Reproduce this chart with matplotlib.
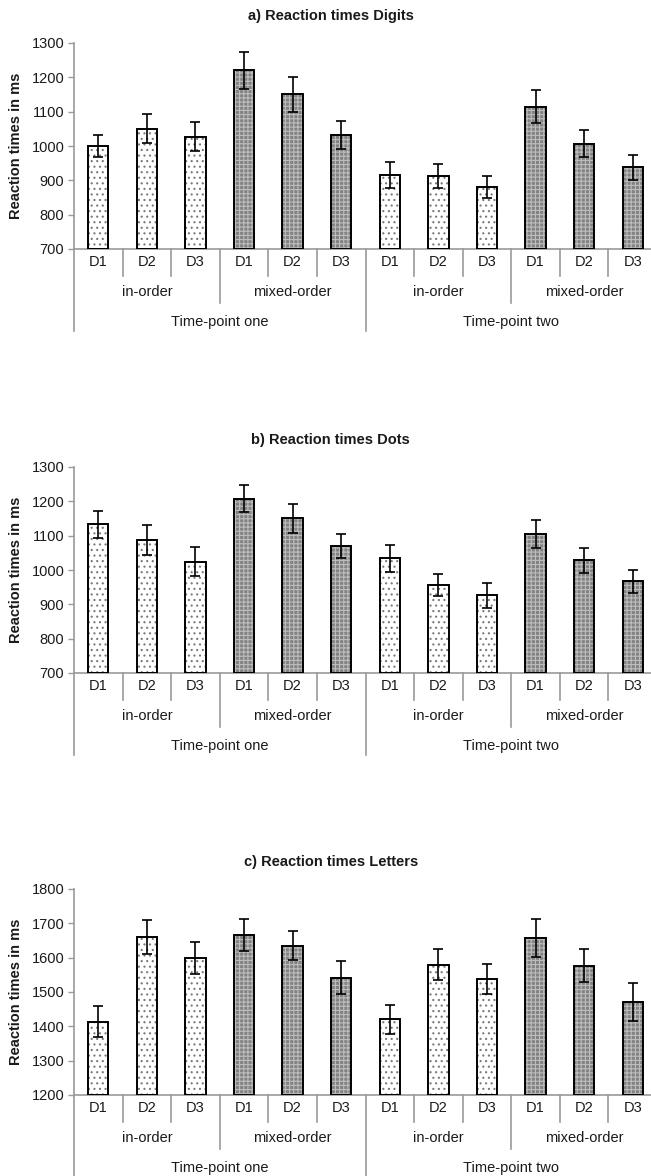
import matplotlib
matplotlib.use('Agg')
import matplotlib.pyplot as plt
from matplotlib.lines import Line2D

plt.rcParams['font.family'] = ['Liberation Sans', 'DejaVu Sans']
plt.rcParams['hatch.linewidth'] = 0.8

# Werte
stufen = ['D1', 'D2', 'D3']
bedingungen = ['in-order', 'mixed-order']
zeitpunkte = ['Time-point one', 'Time-point two']

titel = ['a) Reaction times Digits', 'b) Reaction times Dots', 'c) Reaction times Letters']
y_bereiche = [(700, 1300), (700, 1300), (1200, 1800)]

rt_digits = [1000, 1050, 1027, 1220, 1150, 1032, 915, 913, 880, 1115, 1007, 938]
se_digits = [33, 42, 42, 53, 52, 41, 38, 34, 32, 49, 39, 36]

rt_dots = [1133, 1087, 1024, 1208, 1151, 1071, 1034, 956, 926, 1106, 1028, 967]
se_dots = [40, 44, 42, 40, 42, 35, 40, 33, 36, 41, 36, 33]

rt_letters = [1413, 1660, 1600, 1665, 1635, 1542, 1420, 1580, 1538, 1658, 1577, 1470]
se_letters = [45, 50, 47, 47, 42, 47, 42, 46, 44, 55, 47, 55]

alle_rt = [rt_digits, rt_dots, rt_letters]
alle_se = [se_digits, se_dots, se_letters]

# Achsenpositionen in Pixeln (Bild 651 x 1176)
B, H = 651, 1176
links, breite_px = 74, 583
achs_hoehe = 206
oben_px = [43, 467, 889]
titel_px = [16, 440, 862]

grau = '#9a9a9a'

fig = plt.figure(figsize=(B / 100, H / 100), dpi=100)

for i in range(3):
    ax = fig.add_axes([links / B, 1 - (oben_px[i] + achs_hoehe) / H,
                       breite_px / B, achs_hoehe / H])
    rt = alle_rt[i]
    se = alle_se[i]
    basis = y_bereiche[i][0]
    x = list(range(len(rt)))
    gemischt = [(k // 3) % 2 == 1 for k in x]

    for k in x:
        if gemischt[k]:
            ax.bar(k, rt[k] - basis, bottom=basis, width=0.42,
                   color='#828282', hatch='++++', edgecolor='#bdbdbd', linewidth=0)
        else:
            ax.bar(k, rt[k] - basis, bottom=basis, width=0.42,
                   color='white', hatch='...', edgecolor='#7a7a7a', linewidth=0)
    ax.bar(x, [v - basis for v in rt], bottom=basis, width=0.42,
           fill=False, edgecolor='black', linewidth=1.4, zorder=3)
    ax.errorbar(x, rt, yerr=se, fmt='none', ecolor='black', elinewidth=1.2,
                capsize=3.5, capthick=1.2, zorder=4)

    ax.set_xlim(-0.5, 11.5)
    ax.set_ylim(*y_bereiche[i])
    ax.set_yticks(range(y_bereiche[i][0], y_bereiche[i][1] + 1, 100))
    ax.set_xticks([])
    for s in ['top', 'right']:
        ax.spines[s].set_visible(False)
    for s in ['left', 'bottom']:
        ax.spines[s].set_color(grau)
        ax.spines[s].set_linewidth(1.2)
    ax.tick_params(axis='y', length=4, width=1, color=grau, labelsize=10.5,
                   labelcolor='#1a1a1a', pad=3)
    ax.set_ylabel('Reaction times in ms', fontsize=10.5, fontweight='bold', color='#1a1a1a')
    ax.yaxis.set_label_coords(-0.088, 0.5)

    # mehrstufige Kategorienachse
    def fy(px):
        return -px / achs_hoehe

    trans = ax.get_xaxis_transform()
    for k in x:
        ax.text(k, fy(13), stufen[k % 3], transform=trans, ha='center', va='center',
                fontsize=10.5, color='#1a1a1a', clip_on=False)
    for g in range(4):
        ax.text(3 * g + 1, fy(43), bedingungen[g % 2], transform=trans, ha='center',
                va='center', fontsize=10.5, color='#1a1a1a', clip_on=False)
    for t in range(2):
        ax.text(6 * t + 2.5, fy(73), zeitpunkte[t], transform=trans, ha='center',
                va='center', fontsize=10.5, color='#1a1a1a', clip_on=False)

    for k in range(12):
        pos = k - 0.5
        if k % 6 == 0:
            unten = 82
        elif k % 3 == 0:
            unten = 54
        else:
            unten = 27
        ax.add_line(Line2D([pos, pos], [0, fy(unten)], transform=trans, color=grau,
                           linewidth=1.2, clip_on=False))

    fig.text(0.508, 1 - titel_px[i] / H, titel[i], ha='center', va='center',
             fontsize=10.5, fontweight='bold', color='#1a1a1a')

fig.savefig('out.png', dpi=100)
